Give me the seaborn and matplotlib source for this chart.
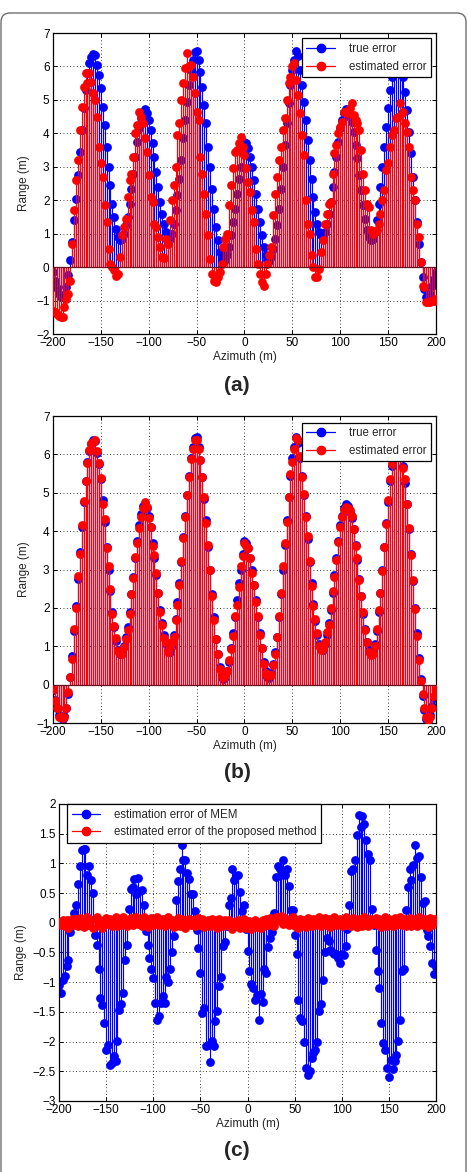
import numpy as np
import matplotlib
matplotlib.use("Agg")
from matplotlib import pyplot as plt
from matplotlib.lines import Line2D
from matplotlib.legend_handler import HandlerLine2D
from matplotlib.patches import FancyBboxPatch
from matplotlib.transforms import IdentityTransform
from matplotlib.ticker import FuncFormatter, MultipleLocator
import seaborn as sns

# azimuth sample grid (m), one sample every 2 m
azimuth = np.arange(-200, 201, 2)

true_error = [
    -0.15, -0.4, -0.62, -0.8, -0.88, -0.9, -0.82, -0.6, -0.25, 0.2,
    0.75, 1.4, 2.05, 2.75, 3.45, 4.1, 4.75, 5.3, 5.8, 6.1,
    6.28, 6.38, 6.35, 6.05, 5.75, 5.35, 4.8, 4.25, 3.6, 3.0,
    2.45, 1.9, 1.5, 1.15, 0.9, 0.8, 0.85, 1.0, 1.25, 1.5,
    1.9, 2.35, 2.8, 3.3, 3.75, 4.15, 4.45, 4.65, 4.72, 4.6,
    4.4, 4.1, 3.7, 3.3, 2.85, 2.4, 1.95, 1.6, 1.3, 1.05,
    0.88, 0.85, 1.0, 1.3, 1.7, 2.15, 2.65, 3.2, 3.85, 4.4,
    4.95, 5.45, 5.9, 6.2, 6.42, 6.45, 6.2, 5.85, 5.4, 4.85,
    4.3, 3.6, 3.0, 2.35, 1.75, 1.2, 0.8, 0.45, 0.25, 0.15,
    0.2, 0.35, 0.6, 0.95, 1.35, 1.75, 2.2, 2.65, 3.0, 3.4,
    3.75, 3.7, 3.55, 3.3, 3.0, 2.6, 2.2, 1.75, 1.35, 0.95,
    0.6, 0.35, 0.2, 0.18, 0.3, 0.55, 0.85, 1.25, 1.75, 2.35,
    3.0, 3.65, 4.3, 4.9, 5.45, 5.9, 6.2, 6.45, 6.3, 5.9,
    5.45, 4.95, 4.4, 3.8, 3.2, 2.65, 2.1, 1.65, 1.3, 1.05,
    0.95, 0.9, 1.05, 1.3, 1.6, 1.95, 2.4, 2.85, 3.3, 3.75,
    4.15, 4.4, 4.6, 4.72, 4.65, 4.5, 4.35, 4.05, 3.65, 3.25,
    2.75, 2.3, 1.85, 1.45, 1.1, 0.9, 0.8, 0.85, 1.05, 1.4,
    1.9, 2.4, 3.0, 3.6, 4.2, 4.75, 5.3, 5.7, 6.0, 6.25,
    6.35, 6.3, 6.0, 5.7, 5.25, 4.7, 4.05, 3.4, 2.7, 2.0,
    1.35, 0.7, 0.15, -0.3, -0.65, -0.9, -0.95, -0.8, -0.55, -0.35,
    -0.15,
]

# panel (a): estimate of the error by MEM
est_error_a = [
    -1.3, -1.34, -1.4, -1.45, -1.5, -1.5, -1.2, -0.95, -0.8, -0.4,
    0.7, 1.7, 2.6, 3.2, 4.1, 4.8, 5.4, 5.8, 5.5, 5.8,
    5.55, 5.2, 5.0, 4.5, 3.6, 3.1, 2.7, 1.85, 1.35, 0.55,
    0.1, 0.0, -0.1, -0.27, -0.2, 0.3, 0.95, 1.2, 1.45, 2.1,
    2.6, 2.8, 3.3, 4.0, 4.25, 4.65, 4.5, 4.3, 3.85, 3.45,
    2.75, 2.1, 1.95, 1.3, 1.2, 0.9, 0.6, 0.3, 0.27, 0.85,
    0.7, 1.4, 2.0, 2.45, 3.0, 3.95, 4.3, 5.0, 5.5, 5.95,
    6.4, 6.0, 6.05, 5.7, 5.2, 4.65, 4.4, 3.3, 2.8, 2.2,
    1.6, 0.95, 0.25, -0.2, -0.4, -0.45, -0.3, -0.15, 0.1, 0.6,
    0.85, 1.0, 1.85, 2.45, 2.95, 3.45, 3.5, 3.7, 3.9, 3.6,
    3.35, 2.95, 2.55, 2.25, 1.7, 1.35, 0.55, 0.1, -0.2, -0.45,
    -0.55, -0.2, 0.1, 0.35, 0.6, 1.55, 2.2, 2.7, 3.2, 3.6,
    4.1, 4.45, 5.0, 5.5, 5.7, 6.0, 6.1, 5.6, 5.15, 4.6,
    3.95, 3.35, 2.0, 1.3, 1.0, 0.35, 0.0, -0.3, -0.3, -0.05,
    0.45, 0.8, 1.3, 1.6, 1.9, 1.95, 2.8, 3.4, 3.65, 4.0,
    4.2, 4.35, 4.65, 4.65, 4.6, 4.75, 4.9, 4.55, 4.4, 4.3,
    4.1, 3.5, 2.8, 2.3, 1.9, 1.8, 1.1, 1.0, 1.05, 1.1,
    1.3, 1.6, 2.0, 2.3, 2.9, 3.1, 3.6, 3.95, 4.1, 4.45,
    4.5, 4.9, 4.6, 4.65, 4.3, 4.05, 3.6, 2.7, 2.3, 2.0,
    1.3, 0.9, 0.15, -0.55, -0.6, -1.05, -1.05, -1.05, -1.0, -1.0,
    -0.95,
]

# panel (b): estimate of the error by the proposed method
est_error_b = [
    -0.12, -0.42, -0.6, -0.85, -0.85, -0.88, -0.85, -0.62, -0.2, 0.2,
    0.68, 1.45, 2.0, 2.82, 3.4, 4.15, 4.78, 5.32, 5.78, 6.12,
    6.3, 6.33, 6.38, 6.08, 5.78, 5.38, 4.72, 4.32, 3.55, 3.08,
    2.5, 1.85, 1.52, 1.22, 0.88, 0.83, 0.8, 0.98, 1.2, 1.42,
    1.85, 2.35, 2.78, 3.33, 3.7, 4.08, 4.38, 4.6, 4.75, 4.62,
    4.35, 4.12, 3.62, 3.38, 2.92, 2.38, 1.9, 1.55, 1.22, 1.1,
    0.85, 0.98, 1.12, 1.25, 1.68, 2.08, 2.6, 3.22, 3.82, 4.38,
    4.95, 5.42, 5.88, 6.15, 6.38, 6.38, 6.15, 5.85, 5.4, 4.88,
    4.22, 3.65, 2.98, 2.32, 1.68, 1.18, 0.8, 0.4, 0.28, 0.2,
    0.25, 0.35, 0.65, 0.92, 1.28, 1.78, 2.08, 2.55, 3.08, 3.35,
    3.68, 3.62, 3.55, 3.3, 2.92, 2.6, 2.15, 1.78, 1.3, 0.95,
    0.55, 0.3, 0.25, 0.25, 0.25, 0.52, 0.8, 1.25, 1.78, 2.4,
    3.08, 3.68, 4.25, 4.9, 5.48, 5.8, 6.15, 6.42, 6.38, 5.95,
    5.4, 4.98, 4.38, 3.88, 3.22, 2.58, 2.05, 1.7, 1.35, 1.0,
    0.9, 0.95, 1.1, 1.38, 1.55, 2.0, 2.45, 2.8, 3.25, 3.72,
    4.12, 4.38, 4.55, 4.62, 4.6, 4.55, 4.4, 4.05, 3.62, 3.3,
    2.72, 2.3, 1.9, 1.42, 1.12, 0.85, 0.78, 0.8, 1.02, 1.45,
    1.95, 2.38, 2.95, 3.6, 4.18, 4.82, 5.35, 5.75, 5.98, 6.2,
    6.3, 6.25, 5.98, 5.65, 5.35, 4.72, 4.08, 3.38, 2.72, 1.98,
    1.28, 0.65, 0.1, -0.25, -0.62, -0.85, -0.92, -0.85, -0.6, -0.3,
    -0.12,
]

# panel (c): residual errors
mem_error = [
    -1.05, -1.19, -0.96, -0.9, -0.73, -0.62, -0.15, 0.05, 0.16, 0.3,
    0.65, 0.95, 1.22, 1.25, 1.25, 0.8, 0.95, 0.72, 0.5, -0.2,
    -0.37, -0.77, -1.26, -1.39, -1.68, -2.15, -2.06, -2.39, -2.36, -2.25,
    -2.33, -1.99, -1.46, -1.37, -1.18, -0.63, -0.38, 0.24, 0.57, 0.6,
    0.73, 0.49, 0.76, 0.53, 0.55, 0.3, -0.13, -0.38, -0.6, -0.78,
    -0.93, -1.35, -1.63, -1.57, -1.35, -1.23, -1.35, -0.91, -0.99, -0.78,
    -0.5, -0.22, 0.38, 0.7, 0.9, 1.31, 1.05, 1.05, 0.83, 0.73,
    0.48, 0.48, 0.2, -0.12, -0.43, -0.85, -1.52, -1.43, -2.07, -2.06,
    -2.35, -1.99, -2.08, -1.66, -1.49, -1.06, -0.91, -0.39, -0.32, -0.06,
    0.3, 0.41, 0.9, 0.72, 0.78, 0.8, 0.52, 0.2, 0.3, -0.11,
    -0.47, -0.81, -1.03, -1.1, -1.3, -1.22, -1.63, -1.2, -1.33, -0.77,
    -0.85, -0.4, -0.25, -0.15, 0.16, 0.77, 0.95, 0.91, 0.8, 1.06,
    0.8, 0.91, 0.62, 0.21, 0.21, -0.21, -0.53, -1.3, -1.61, -1.65,
    -2.0, -2.44, -2.56, -2.49, -2.27, -2.2, -2.14, -2.0, -1.49, -1.37,
    -0.97, -0.5, -0.26, -0.3, -0.45, -0.49, -0.53, -0.52, -0.6, -0.67,
    -0.52, -0.54, -0.39, -0.1, 0.3, 0.88, 0.91, 1.06, 1.47, 1.81,
    1.62, 1.79, 1.67, 1.39, 1.15, 1.05, 0.24, -0.04, -0.45, -0.82,
    -1.1, -1.68, -2.03, -2.15, -2.45, -2.59, -2.31, -2.47, -2.32, -2.23,
    -1.99, -1.64, -0.82, -0.77, 0.21, 0.61, 0.9, 0.72, 0.97, 1.31,
    1.09, 1.12, 0.77, 0.34, 0.37, -0.12, -0.22, -0.39, -0.67, -0.86,
    -0.75,
]

proposed_error = [
    0.02, -0.03, 0.05, -0.06, 0.04, -0.08, 0.03, 0.07, -0.04, 0.06,
    -0.05, 0.08, 0.02, -0.07, 0.05, 0.09, -0.03, 0.04, -0.08, 0.06,
    0.1, -0.04, 0.03, -0.09, 0.05, 0.08, -0.02, 0.06, -0.06, 0.04,
    0.09, -0.05, 0.07, -0.03, 0.1, 0.02, -0.06, 0.05, 0.08, -0.04,
    0.06, 0.1, -0.02, 0.07, -0.05, 0.09, 0.03, -0.07, 0.05, 0.08,
    -0.03, 0.06, 0.1, -0.04, 0.02, 0.07, -0.06, 0.04, 0.09, -0.02,
    0.05, -0.07, 0.03, 0.08, -0.05, 0.06, 0.02, -0.08, 0.04, 0.07,
    -0.03, 0.05, -0.06, 0.02, 0.08, -0.04, 0.06, -0.07, 0.03, 0.05,
    -0.05, 0.07, -0.02, 0.04, -0.08, 0.06, 0.01, -0.06, 0.05, -0.03,
    0.04, -0.07, -0.1, 0.02, -0.06, 0.05, -0.09, -0.03, 0.06, -0.08,
    -0.05, 0.03, -0.1, -0.04, 0.05, -0.07, 0.02, -0.09, 0.04, -0.06,
    0.06, -0.03, 0.08, 0.04, -0.05, 0.1, 0.07, 0.03, 0.11, -0.02,
    0.08, 0.05, -0.04, 0.06, 0.09, -0.06, 0.04, -0.08, 0.07, -0.03,
    0.05, -0.07, 0.08, 0.02, -0.05, 0.07, -0.04, 0.06, 0.09, -0.06,
    0.04, 0.08, -0.03, 0.06, -0.07, 0.05, 0.09, -0.04, 0.03, 0.07,
    -0.05, 0.06, 0.1, -0.03, 0.05, -0.06, 0.08, 0.02, -0.07, 0.06,
    0.04, -0.05, 0.09, 0.03, -0.06, 0.07, -0.02, 0.05, 0.08, -0.04,
    0.06, -0.07, 0.04, 0.09, -0.05, 0.07, 0.02, -0.06, 0.08, -0.03,
    0.05, 0.1, -0.04, 0.06, -0.06, 0.03, 0.08, -0.05, 0.07, 0.04,
    -0.06, 0.09, 0.02, -0.04, 0.07, 0.05, -0.07, 0.08, -0.03, 0.06,
    0.01,
]

for s in (true_error, est_error_a, est_error_b, mem_error, proposed_error):
    assert len(s) == len(azimuth)

BLUE = "#0000ff"
RED = "#ff0000"

sns.set_style("ticks")
plt.rcParams["font.family"] = ["Liberation Sans", "DejaVu Sans"]


class StemLegendHandler(HandlerLine2D):
    # matlab-like legend entry: line with the marker at its right end
    def get_xdata(self, legend, xdescent, ydescent, width, height, fontsize):
        xdata = np.array([-xdescent, -xdescent + width])
        return xdata, np.array([-xdescent + width * 0.92])


def matlab_fmt(v, pos):
    return ("%g" % v).replace("-", "\u2212")


def stem(ax, y, color, z):
    ax.vlines(azimuth, 0, y, colors=color, linewidth=0.85, zorder=z)
    sns.scatterplot(x=azimuth, y=y, color=color, s=40, linewidth=0,
                    ax=ax, zorder=z + 0.5, legend=False)


def style_axes(ax, ylim, ystep):
    ax.set_xlim(-200, 200)
    ax.set_ylim(*ylim)
    ax.xaxis.set_major_locator(MultipleLocator(50))
    ax.yaxis.set_major_locator(MultipleLocator(ystep))
    ax.xaxis.set_major_formatter(FuncFormatter(matlab_fmt))
    ax.yaxis.set_major_formatter(FuncFormatter(matlab_fmt))
    ax.set_axisbelow(True)
    ax.grid(True, linestyle=(0, (1, 3)), color="black", linewidth=0.6)
    ax.tick_params(direction="in", top=True, right=True, length=3,
                   width=0.7, labelsize=8.5, pad=2.5, colors="black")
    for sp in ax.spines.values():
        sp.set_linewidth(0.9)
        sp.set_color("black")
    ax.set_xlabel("Azimuth (m)", fontsize=8.5, labelpad=1)
    ax.set_ylabel("Range (m)", fontsize=8.5, labelpad=4)


def add_legend(ax, labels, loc, anchor):
    handles = [Line2D([], [], color=BLUE, marker="o", markersize=6, lw=0.9),
               Line2D([], [], color=RED, marker="o", markersize=6, lw=0.9)]
    leg = ax.legend(handles, labels, loc=loc, bbox_to_anchor=anchor,
                    handler_map={Line2D: StemLegendHandler()},
                    fancybox=False, edgecolor="black", framealpha=1,
                    fontsize=8.3, borderaxespad=0, handlelength=2.5,
                    handletextpad=1.2, borderpad=0.4, labelspacing=0.5)
    leg.get_frame().set_linewidth(0.9)
    leg.set_zorder(10)


fig = plt.figure(figsize=(4.68, 11.72), dpi=100)

# rounded frame around the whole figure
fig.patches.append(FancyBboxPatch((1, -30), 465, 1172 - 13 + 30,
                                  boxstyle="round,pad=0,rounding_size=9",
                                  transform=IdentityTransform(), fill=False,
                                  edgecolor="#6e6e6e", linewidth=1.0))

ax_a = fig.add_axes([0.1132, 0.7150, 0.8184, 0.2568])
ax_b = fig.add_axes([0.1132, 0.3831, 0.8184, 0.2619])
ax_c = fig.add_axes([0.1261, 0.0606, 0.8055, 0.2534])

# (a)
stem(ax_a, true_error, BLUE, 2)
stem(ax_a, est_error_a, RED, 3)
ax_a.axhline(0, color="#6a0f1c", linewidth=0.9, zorder=4)
style_axes(ax_a, (-2, 7), 1)
add_legend(ax_a, ["true error", "estimated error"], "upper right", (0.987, 0.983))

# (b)
stem(ax_b, true_error, BLUE, 2)
stem(ax_b, est_error_b, RED, 3)
ax_b.axhline(0, color="#6a0f1c", linewidth=0.9, zorder=4)
style_axes(ax_b, (-1, 7), 1)
add_legend(ax_b, ["true error", "estimated error"], "upper right", (0.987, 0.979))

# (c)
stem(ax_c, mem_error, BLUE, 2)
stem(ax_c, proposed_error, RED, 3)
style_axes(ax_c, (-3, 2), 0.5)
add_legend(ax_c, ["estimation error of MEM", "estimated error of the proposed method"],
           "upper left", (0.021, 1.0))

for label, ypx in (("(a)", 385), ("(b)", 772), ("(c)", 1150)):
    fig.text(237 / 468, 1 - ypx / 1172, label, ha="center", va="center",
             fontsize=15, fontweight="bold")

fig.savefig("out.png", dpi=100)
